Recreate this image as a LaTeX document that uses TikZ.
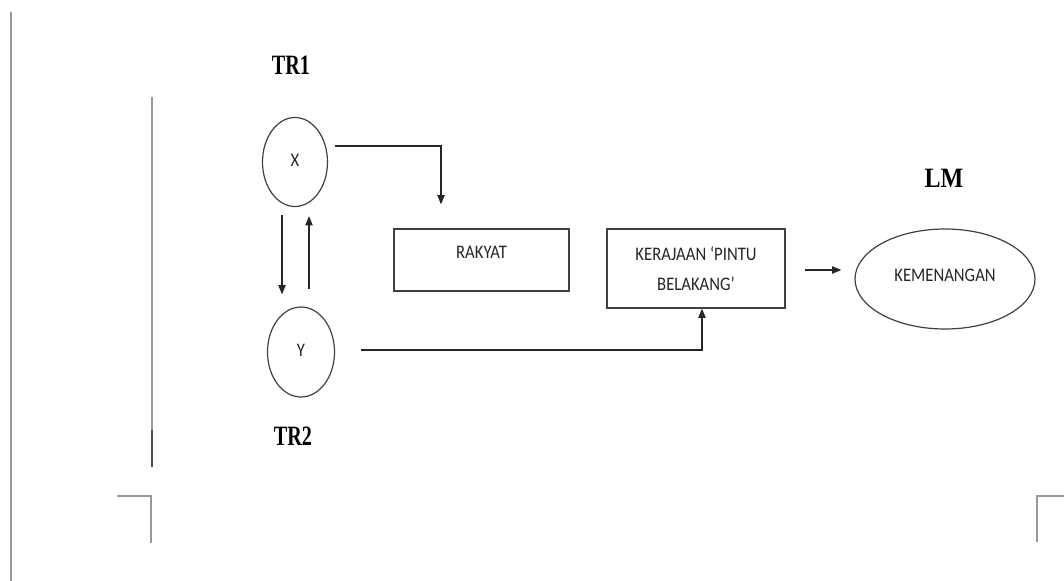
\documentclass[tikz,border=0pt]{standalone}
\usepackage{fontspec}
\setmainfont{Carlito}
\newfontfamily\labfont{Liberation Serif}
\usetikzlibrary{arrows.meta,shapes.geometric,calc}
\newcommand\talltext[1]{\scalebox{1}[1.15]{#1}}
\tikzset{
  pageline/.style={draw=black!40, line width=0.8pt},
  shapeline/.style={draw=black!75, line width=0.9pt},
  arr/.style={draw=black!85, line width=0.9pt, -{Triangle[length=7pt,width=5.5pt]}},
  bubble/.style={shapeline, ellipse, inner sep=0pt, text=black!85, font=\fontsize{12.5}{15}\selectfont},
  boxnode/.style={shapeline, rectangle, inner sep=0pt, text=black!85, font=\fontsize{12.5}{15}\selectfont},
  biglabel/.style={inner sep=0pt, font=\labfont\bfseries\fontsize{21}{24}\selectfont}
}
\begin{document}
\begin{tikzpicture}[x=0.75pt,y=-0.75pt]
\useasboundingbox (0,0) rectangle (1064,581);
% page marks
\draw[pageline] (11,12) -- (11,581);
\draw[pageline] (152,97) -- (152,467);
\draw[draw=black!70, line width=0.8pt] (152,430) -- (152,467);
\draw[pageline] (117,496) -- (151,496) -- (151,543);
\draw[pageline] (1064,496) -- (1037,496) -- (1037,542);
% labels
\node[biglabel] (tr1) at (291,65) {\scalebox{0.72}[1]{TR1}};
\node[biglabel] (tr2) at (293,436) {\scalebox{0.72}[1]{TR2}};
\node[biglabel] (lm) at (944,178) {\scalebox{0.86}[1]{LM}};
% nodes
\node[bubble, minimum width=48.75pt, minimum height=66.75pt] (X) at (295,162) {\raisebox{3pt}{\talltext{X}}};
\node[bubble, minimum width=50.25pt, minimum height=67.5pt] (Y) at (301,352) {\raisebox{2pt}{\talltext{Y}}};
\node[boxnode] (R) at (481.5,260) {\parbox[c][46.5pt][t]{131.25pt}{\centering\rule{0pt}{22pt}\talltext{RAKYAT}}};
\node[boxnode] (K) at (696,268.5) {\parbox[c][59.25pt][t]{133.5pt}{\centering\baselineskip=22.5pt\rule{0pt}{23.6pt}\talltext{KERAJAAN ‘PINTU}\\\talltext{BELAKANG’}}};
\node[bubble, minimum width=135pt, minimum height=75pt] (W) at (945,279) {\raisebox{5pt}{\talltext{KEMENANGAN}}};
% connectors
\draw[arr] ($(X.east)+(7,-16)$) -| ($(R.north)+(-40.5,-24)$);
\draw[arr] ($(Y.east)+(26,-2)$) -| (K.south -| 702,0);
\draw[arr] ($(X.south)+(-13,8)$) -- ($(Y.north)+(-19,-12)$);
\draw[arr] ($(Y.north)+(8,-17)$) -- ($(X.south)+(14,9)$);
\draw[arr] ($(K.east)+(19,1.5)$) -- ($(W.west)+(-13,-9)$);
\end{tikzpicture}
\end{document}
